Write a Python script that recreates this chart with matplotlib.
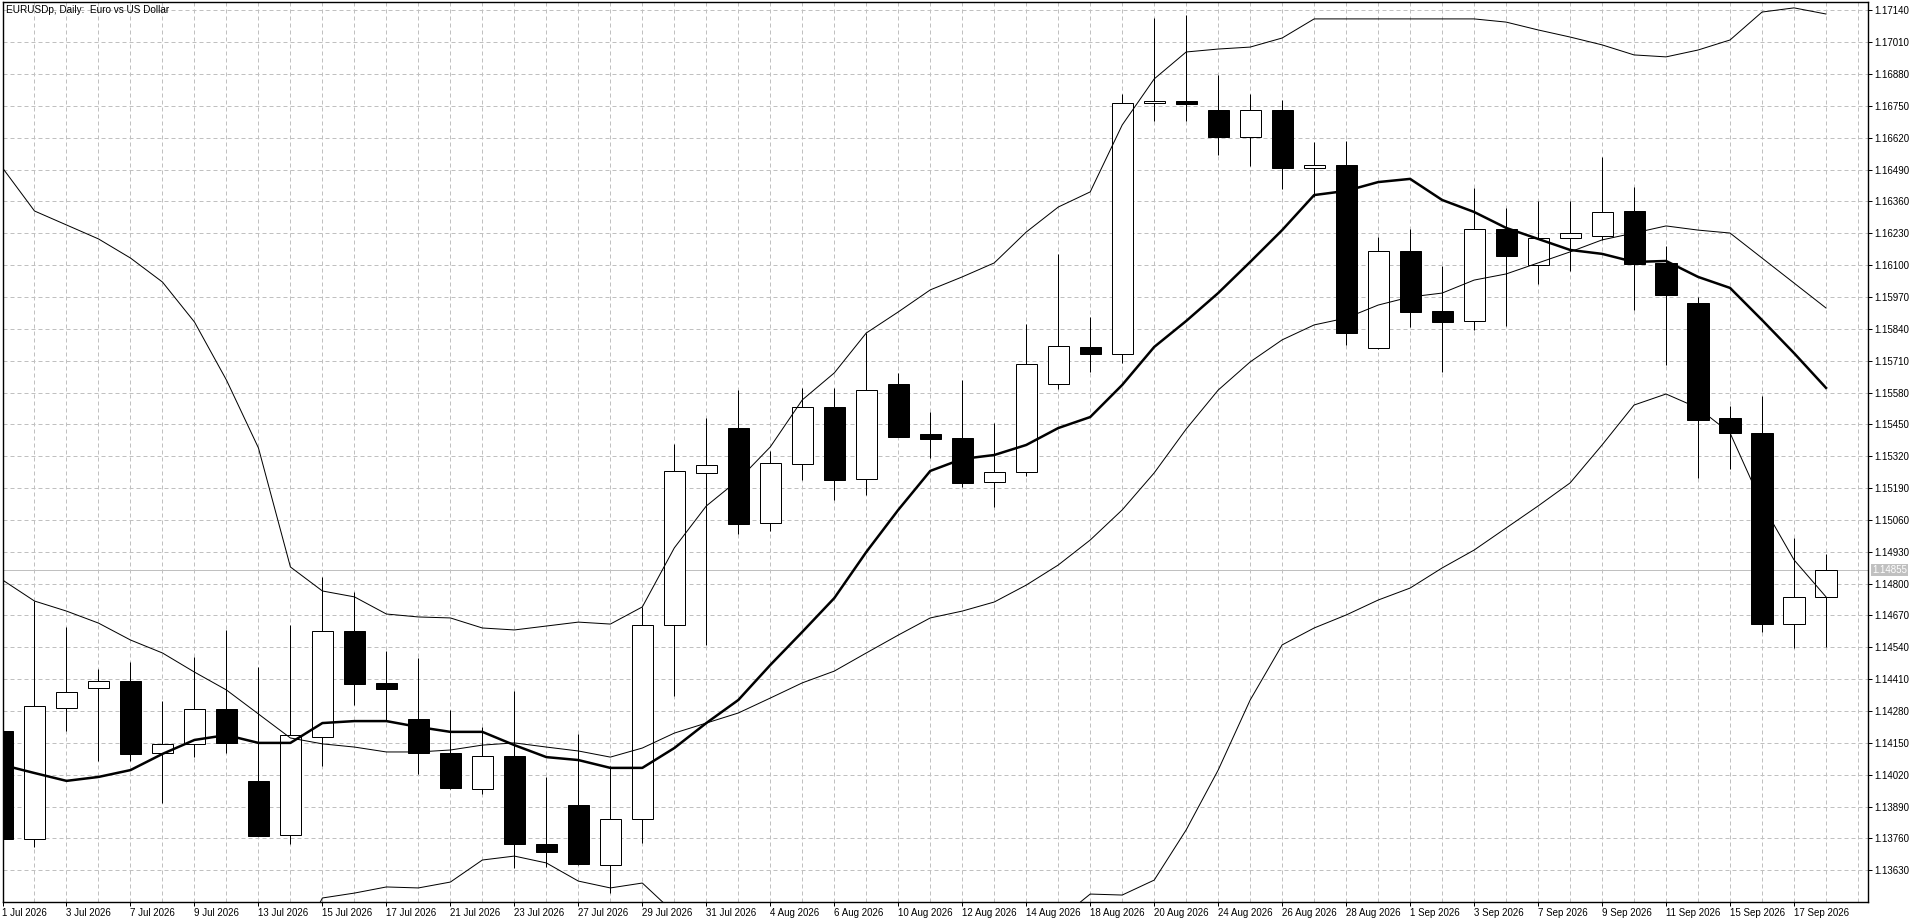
import numpy as np
import matplotlib
matplotlib.use("Agg")
import matplotlib.pyplot as plt

plt.rcParams['font.family'] = ['Liberation Sans', 'DejaVu Sans']

title = "EURUSDp, Daily:  Euro vs US Dollar"

# daily candles, 1 Jul 2026 .. 18 Sep 2026 (trading days only)
opens = [1.14199, 1.13757, 1.14291, 1.14373, 1.14403, 1.14108, 1.14144, 1.14287, 1.13995, 1.13773,
         1.14173, 1.14607, 1.14393, 1.14246, 1.14108, 1.13961, 1.14097, 1.13736, 1.13895, 1.13650,
         1.13838, 1.14631, 1.15250, 1.15435, 1.15046, 1.15287, 1.15520, 1.15226, 1.15615, 1.15410,
         1.15395, 1.15214, 1.15255, 1.15614, 1.15765, 1.15736, 1.16761, 1.16770, 1.16732, 1.16622,
         1.16732, 1.16498, 1.16508, 1.15761, 1.16159, 1.15913, 1.15872, 1.16246, 1.16099, 1.16210,
         1.16220, 1.16321, 1.16110, 1.15944, 1.15475, 1.15414, 1.14634, 1.14744]
highs = [1.14250, 1.14729, 1.14624, 1.14452, 1.14479, 1.14321, 1.14499, 1.14611, 1.14461, 1.14631,
         1.14827, 1.14765, 1.14526, 1.14498, 1.14284, 1.14214, 1.14362, 1.14012, 1.14186, 1.14057,
         1.14706, 1.15370, 1.15477, 1.15590, 1.15341, 1.15600, 1.15600, 1.15822, 1.15659, 1.15499,
         1.15631, 1.15457, 1.15860, 1.16146, 1.15890, 1.16799, 1.17108, 1.17121, 1.16876, 1.16799,
         1.16774, 1.16604, 1.16607, 1.16214, 1.16248, 1.16097, 1.16414, 1.16332, 1.16362, 1.16362,
         1.16543, 1.16420, 1.16178, 1.15971, 1.15525, 1.15566, 1.14985, 1.14921]
lows = [1.13730, 1.13726, 1.14200, 1.14077, 1.14077, 1.13906, 1.14094, 1.14110, 1.13770, 1.13736,
        1.14057, 1.14305, 1.14241, 1.14022, 1.13962, 1.13941, 1.13638, 1.13645, 1.13650, 1.13536,
        1.13740, 1.14341, 1.14550, 1.15003, 1.15015, 1.15223, 1.15141, 1.15163, 1.15398, 1.15312,
        1.15196, 1.15114, 1.15241, 1.15593, 1.15665, 1.15699, 1.16690, 1.16690, 1.16550, 1.16506,
        1.16410, 1.16379, 1.15774, 1.15757, 1.15849, 1.15665, 1.15835, 1.15852, 1.16022, 1.16077,
        1.16203, 1.15917, 1.15693, 1.15230, 1.15267, 1.14604, 1.14539, 1.14543]
closes = [1.13757, 1.14299, 1.14357, 1.14401, 1.14106, 1.14144, 1.14287, 1.14148, 1.13771, 1.14181,
          1.14606, 1.14392, 1.14369, 1.14108, 1.13967, 1.14095, 1.13736, 1.13704, 1.13655, 1.13838,
          1.14630, 1.15259, 1.15284, 1.15044, 1.15291, 1.15520, 1.15224, 1.15589, 1.15400, 1.15392,
          1.15212, 1.15255, 1.15695, 1.15769, 1.15736, 1.16761, 1.16770, 1.16759, 1.16624, 1.16732,
          1.16498, 1.16509, 1.15822, 1.16159, 1.15910, 1.15869, 1.16246, 1.16139, 1.16210, 1.16230,
          1.16318, 1.16104, 1.15978, 1.15468, 1.15414, 1.14634, 1.14744, 1.14855]

# moving average (thick) and bollinger bands (thin)
ma_line = [1.14060, 1.14027, 1.13995, 1.14011, 1.14039, 1.14105, 1.14162, 1.14182, 1.14150, 1.14150,
           1.14231, 1.14239, 1.14239, 1.14215, 1.14195, 1.14195, 1.14141, 1.14092, 1.14080, 1.14048,
           1.14048, 1.14129, 1.14231, 1.14325, 1.14468, 1.14603, 1.14741, 1.14929, 1.15101, 1.15260,
           1.15309, 1.15325, 1.15366, 1.15435, 1.15480, 1.15611, 1.15766, 1.15872, 1.15986, 1.16113,
           1.16243, 1.16386, 1.16403, 1.16439, 1.16452, 1.16366, 1.16317, 1.16252, 1.16207, 1.16162,
           1.16146, 1.16113, 1.16117, 1.16052, 1.16007, 1.15876, 1.15741, 1.15599]
bb_upper = [1.16497, 1.16321, 1.16264, 1.16207, 1.16129, 1.16031, 1.15868, 1.15631, 1.15354, 1.14868,
            1.14770, 1.14746, 1.14676, 1.14664, 1.14660, 1.14619, 1.14611, 1.14627, 1.14643, 1.14635,
            1.14705, 1.14946, 1.15117, 1.15223, 1.15358, 1.15550, 1.15660, 1.15823, 1.15909, 1.15999,
            1.16052, 1.16109, 1.16235, 1.16337, 1.16399, 1.16672, 1.16860, 1.16970, 1.16982, 1.16990,
            1.17027, 1.17105, 1.17105, 1.17105, 1.17105, 1.17105, 1.17105, 1.17092, 1.17060, 1.17031,
            1.16999, 1.16958, 1.16950, 1.16978, 1.17019, 1.17133, 1.17150, 1.17125]
bb_middle = [1.14815, 1.14729, 1.14688, 1.14639, 1.14570, 1.14517, 1.14439, 1.14366, 1.14268, 1.14170,
             1.14146, 1.14133, 1.14113, 1.14113, 1.14121, 1.14141, 1.14150, 1.14133, 1.14117, 1.14092,
             1.14129, 1.14190, 1.14231, 1.14272, 1.14333, 1.14395, 1.14443, 1.14517, 1.14590, 1.14660,
             1.14688, 1.14725, 1.14794, 1.14876, 1.14978, 1.15101, 1.15252, 1.15431, 1.15590, 1.15705,
             1.15795, 1.15856, 1.15884, 1.15937, 1.15970, 1.15986, 1.16039, 1.16064, 1.16109, 1.16154,
             1.16203, 1.16231, 1.16260, 1.16243, 1.16231, 1.16129, 1.16027, 1.15925]
nan = np.nan
bb_lower = [nan, nan, nan, nan, nan, nan, nan, nan, nan, 1.13264,
            1.13517, 1.13537, 1.13562, 1.13558, 1.13582, 1.13672, 1.13688, 1.13660, 1.13586, 1.13558,
            1.13578, 1.13456, nan, nan, nan, nan, nan, nan, nan, nan,
            nan, nan, nan, 1.13427, 1.13533, 1.13529, 1.13590, 1.13795, 1.14039, 1.14325,
            1.14550, 1.14619, 1.14672, 1.14733, 1.14782, 1.14864, 1.14937, 1.15027, 1.15117, 1.15211,
            1.15366, 1.15529, 1.15574, 1.15517, 1.15415, 1.15125, 1.14897, 1.14746]

date_labels = ["1 Jul 2026", "3 Jul 2026", "7 Jul 2026", "9 Jul 2026", "13 Jul 2026", "15 Jul 2026",
               "17 Jul 2026", "21 Jul 2026", "23 Jul 2026", "27 Jul 2026", "29 Jul 2026", "31 Jul 2026",
               "4 Aug 2026", "6 Aug 2026", "10 Aug 2026", "12 Aug 2026", "14 Aug 2026", "18 Aug 2026",
               "20 Aug 2026", "24 Aug 2026", "26 Aug 2026", "28 Aug 2026", "1 Sep 2026", "3 Sep 2026",
               "7 Sep 2026", "9 Sep 2026", "11 Sep 2026", "15 Sep 2026", "17 Sep 2026"]
price_levels = [1.13630 + 0.0013 * k for k in range(28)]
last_price = 1.14855

GRID = '#c0c0c0'
PX = 0.72  # one pixel in points

fig = plt.figure(figsize=(19.2, 9.23), dpi=100)
ax = fig.add_axes([2.5 / 1920, 21 / 923, 1865.5 / 1920, 900 / 923])

n = len(closes)
x = np.arange(n)
o = np.array(opens)
c = np.array(closes)
up = c >= o

ax.vlines(x, lows, highs, color='black', lw=PX, zorder=3)
ax.bar(x, np.maximum(np.abs(c - o), 0.00002), bottom=np.minimum(o, c), width=0.66,
       color=np.where(up, 'white', 'black'), edgecolor='black', linewidth=PX, zorder=4)

ax.plot(x, bb_upper, color='black', lw=PX, zorder=5)
ax.plot(x, bb_middle, color='black', lw=PX, zorder=5)
ax.plot(x, bb_lower, color='black', lw=PX, zorder=5)
ax.plot(x, ma_line, color='black', lw=1.8, zorder=6)

ax.axhline(last_price, color=GRID, lw=PX, zorder=2)

ax.set_xlim(0.0156, 58.3125)
ax.set_ylim(1.135006, 1.17174)

ax.set_xticks(np.arange(0, n, 2))
ax.set_xticklabels(date_labels, ha='left')
ax.set_xticks(np.arange(0, 59), minor=True)
ax.yaxis.tick_right()
ax.set_yticks(price_levels)
ax.set_yticklabels([f"{v:.5f}" for v in price_levels])
ax.tick_params(axis='both', which='major', direction='out', length=2.9, width=PX,
               labelsize=7, pad=1.5, colors='black')
ax.tick_params(axis='x', which='minor', length=0)

ax.set_axisbelow(True)
ax.grid(True, which='both', axis='x', color=GRID, lw=PX, linestyle=(0, (4, 3)))
ax.grid(True, which='major', axis='y', color=GRID, lw=PX, linestyle=(0, (4, 3)))
for s in ax.spines.values():
    s.set_linewidth(PX * 1.4)

ax.annotate(f"{last_price:.5f}", xy=(1, last_price), xycoords=('axes fraction', 'data'),
            xytext=(3.2, 0), textcoords='offset points', ha='left', va='center',
            fontsize=7, color='white',
            bbox=dict(boxstyle='square,pad=0.12', fc=GRID, ec='none'), zorder=10)

fig.text(6 / 1920, 1 - 10 / 923, title, ha='left', va='center', fontsize=7.2, color='black')

fig.savefig('out.png', dpi=100, facecolor='white')
